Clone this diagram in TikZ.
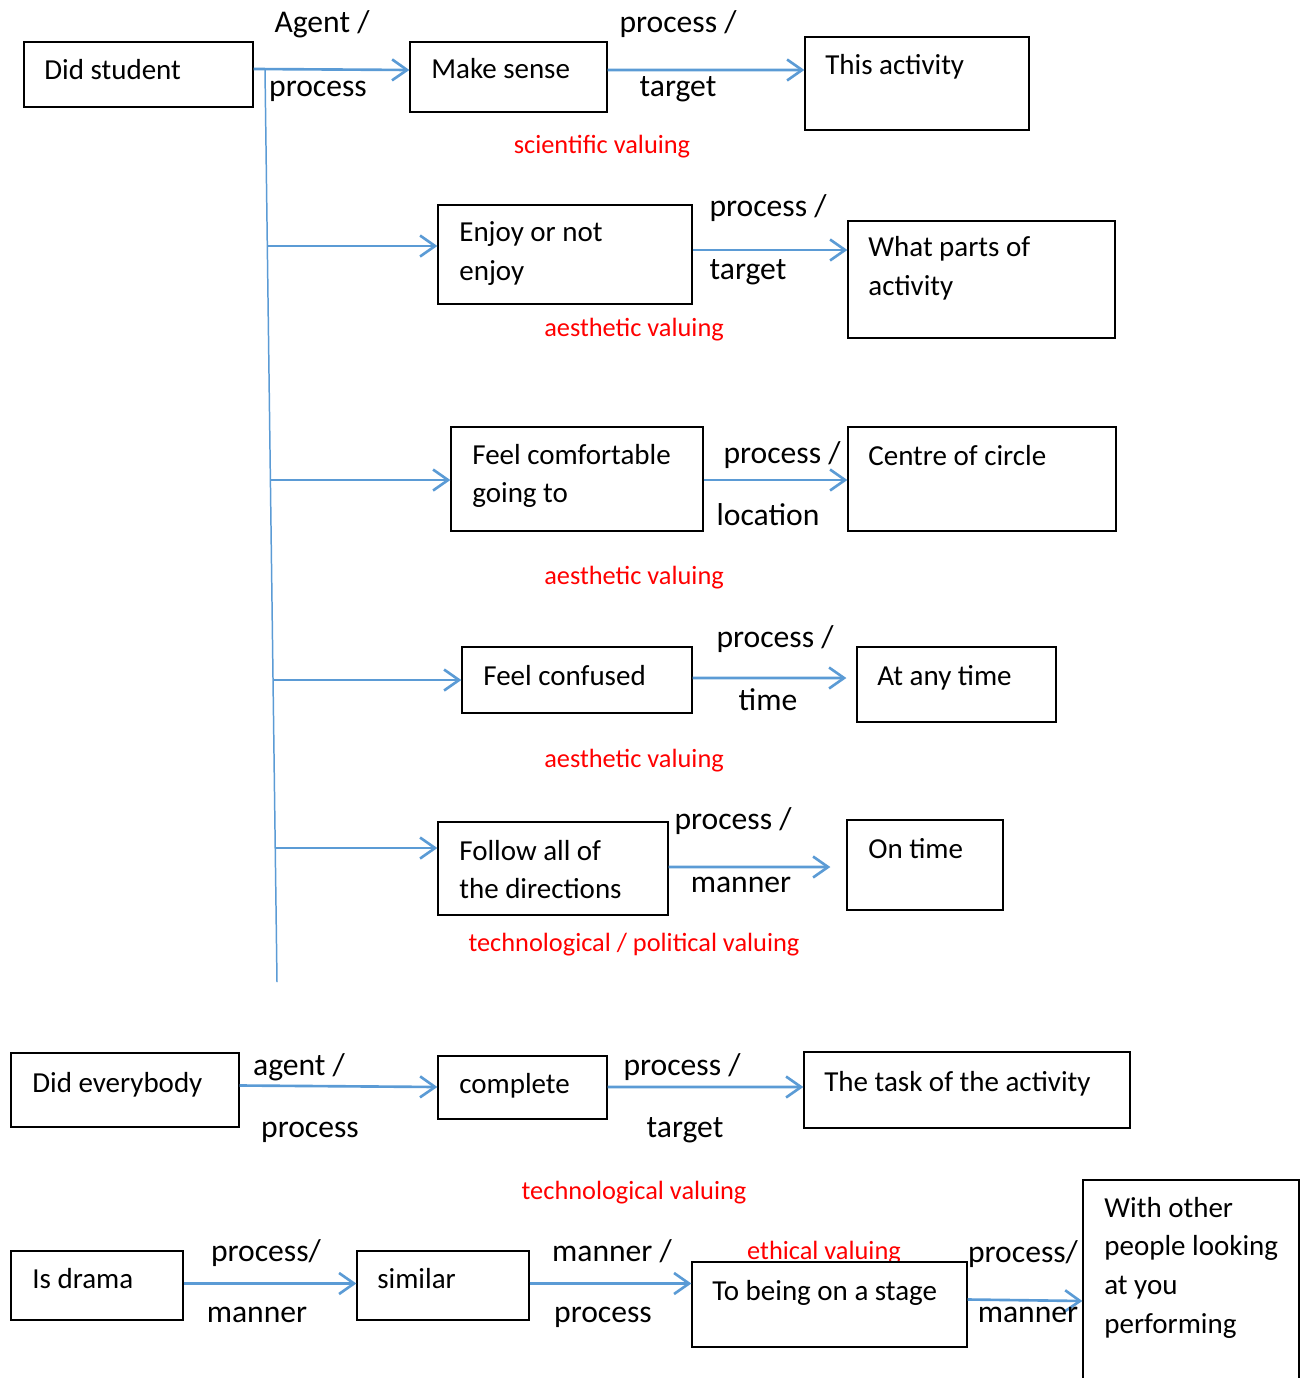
\documentclass[tikz,border=0pt]{standalone}
\usepackage{fontspec}
\setmainfont{Carlito}
\definecolor{linkblue}{RGB}{91,155,213}
\definecolor{valred}{RGB}{255,0,0}
\usetikzlibrary{arrows.meta,positioning,calc,fit}
\newlength\pxu
\setlength\pxu{0.02cm}

\begin{document}
\begin{tikzpicture}[x=0.02cm,y=-0.02cm,
  box/.style={draw=black,line width=0.75pt,fill=white,inner sep=0pt},
  boxtext/.style={font=\fontsize{16.5}{22.1}\selectfont,inner sep=0pt,anchor=base west},
  multi/.style={boxtext,text width=#1,align=flush left},
  rel/.style={font=\fontsize{18}{22}\selectfont,inner sep=0pt,anchor=base},
  valuing/.style={font=\fontsize{15}{18}\selectfont,text=valred,inner sep=0pt,anchor=base},
  link/.style={draw=linkblue,line width=1.5pt,-{Straight Barb[length=0.3cm,width=0.42cm]}},
  stem/.style={draw=linkblue,line width=0.85pt}]
  \useasboundingbox (0,0) rectangle (1301,1378);

  %% Did student -> Make sense -> This activity
  \node[box,fit={(24,42) (253,107)}] (did) {};
  \node[boxtext] (did-t) at (44,80) {Did student};
  \node[box,fit={(410,42) (607,112)}] (sense) {};
  \node[boxtext] (sense-t) at (431,79) {Make sense};
  \node[box,fit={(805,37) (1029,130)}] (act) {};
  \node[boxtext] (act-t) at (825,75) {This activity};
  \draw[link] ([yshift=5.5\pxu]did.east) -- ([yshift=7\pxu]sense.west);
  \draw[link] ([yshift=7\pxu]sense.east) -- ([yshift=13.5\pxu]act.west);
  \node[rel] (r1a) at (322,33) {Agent /};
  \node[rel] (r1b) at (318,97) {process};
  \node[rel] (r1c) at (678,33) {process /};
  \node[rel] (r1d) at (678,97) {target};
  \node[valuing] (v1) at (602,154) {scientific valuing};

  %% stem and branches
  \coordinate (stemtop) at (265,70);
  \coordinate (stembot) at (277,982);
  \draw[stem] (stemtop) -- (stembot);
  \coordinate (b1) at ($(stemtop)!0.193!(stembot)$);
  \coordinate (b2) at ($(stemtop)!0.4496!(stembot)$);
  \coordinate (b3) at ($(stemtop)!0.6689!(stembot)$);
  \coordinate (b4) at ($(stemtop)!0.8531!(stembot)$);

  %% Enjoy or not enjoy -> What parts of activity
  \node[box,fit={(438,205) (692,304)}] (enjoy) {};
  \node[multi=230\pxu] (enjoy-t) at (459,242) {Enjoy or not\\enjoy};
  \node[box,fit={(848,221) (1115,338)}] (parts) {};
  \node[multi=230\pxu] (parts-t) at (868,257) {What parts of\\activity};
  \draw[link] (b1) -- (enjoy.west |- b1);
  \draw[link] ([yshift=4.5\pxu]enjoy.east) -- ([yshift=29.5\pxu]parts.west);
  \node[rel] (r2a) at (768,217) {process /};
  \node[rel] (r2b) at (748,279) {target};
  \node[valuing] (v2) at (634,337) {aesthetic valuing};

  %% Feel comfortable going to -> Centre of circle
  \node[box,fit={(451,427) (703,531)}] (comfy) {};
  \node[multi=230\pxu] (comfy-t) at (472,464) {Feel comfortable\\going to};
  \node[box,fit={(848,427) (1116,531)}] (centre) {};
  \node[boxtext] (centre-t) at (868,465) {Centre of circle};
  \draw[link] (b2) -- (comfy.west |- b2);
  \draw[link] ([yshift=-1\pxu]comfy.east) -- ([yshift=-1\pxu]centre.west);
  \node[rel] (r3a) at (782,463) {process /};
  \node[rel] (r3b) at (768,525) {location};
  \node[valuing] (v3) at (634,584) {aesthetic valuing};

  %% Feel confused -> At any time
  \node[box,fit={(462,647) (692,713)}] (confused) {};
  \node[boxtext] (confused-t) at (483,685) {Feel confused};
  \node[box,fit={(857,647) (1056,722)}] (anytime) {};
  \node[boxtext] (anytime-t) at (877,685) {At any time};
  \draw[link] (b3) -- (confused.west |- b3);
  \draw[link,shorten >=10\pxu] ([yshift=2\pxu]confused.east) -- ([yshift=6.5\pxu]anytime.west);
  \node[rel] (r4a) at (775,647) {process /};
  \node[rel] (r4b) at (768,710) {time};
  \node[valuing] (v4) at (634,767) {aesthetic valuing};

  %% Follow all of the directions -> On time
  \node[box,fit={(438,822) (668,915)}] (follow) {};
  \node[multi=220\pxu] (follow-t) at (459,860) {Follow all of\\the directions};
  \node[box,fit={(847,820) (1003,910)}] (ontime) {};
  \node[boxtext] (ontime-t) at (868,858) {On time};
  \draw[link] (b4) -- (follow.west |- b4);
  \draw[link,shorten >=16\pxu] ([yshift=1.5\pxu]follow.east) -- ([yshift=-2\pxu]ontime.west);
  \node[rel] (r5a) at (733,829) {process /};
  \node[rel] (r5b) at (741,892) {manner};
  \node[valuing] (v5) at (634,951) {technological / political valuing};

  %% Did everybody -> complete -> The task of the activity
  \node[box,fit={(11,1053) (239,1127)}] (every) {};
  \node[boxtext] (every-t) at (32,1092) {Did everybody};
  \node[box,fit={(438,1056) (607,1119)}] (complete) {};
  \node[boxtext] (complete-t) at (459,1093) {complete};
  \node[box,fit={(804,1052) (1130,1128)}] (task) {};
  \node[boxtext] (task-t) at (824,1091) {The task of the activity};
  \draw[link] ([yshift=4.5\pxu]every.east) -- ([yshift=0.5\pxu]complete.west);
  \draw[link] ([yshift=0.5\pxu]complete.east) -- ([yshift=3\pxu]task.west);
  \node[rel] (r6a) at (299,1075) {agent /};
  \node[rel] (r6b) at (310,1137) {process};
  \node[rel] (r6c) at (682,1075) {process /};
  \node[rel] (r6d) at (685,1137) {target};
  \node[valuing] (v6) at (634,1199) {technological valuing};

  %% Is drama -> similar -> To being on a stage -> With other people...
  \node[valuing] (v7) at (824,1259) {ethical valuing};
  \node[box,fit={(11,1251) (183,1320)}] (drama) {};
  \node[boxtext] (drama-t) at (32,1288) {Is drama};
  \node[box,fit={(357,1251) (529,1320)}] (similar) {};
  \node[boxtext] (similar-t) at (377,1288) {similar};
  \node[box,fit={(692,1262) (967,1347)}] (stage) {};
  \node[boxtext] (stage-t) at (712,1300) {To being on a stage};
  \node[box,fit={(1083,1180) (1299,1392)}] (others) {};
  \node[multi=200\pxu] (others-t) at (1104,1217) {With other\\people looking\\at you\\performing};
  \draw[link] ([yshift=2\pxu]drama.east) -- ([yshift=2\pxu]similar.west);
  \draw[link] ([yshift=2\pxu]similar.east) -- ([yshift=21\pxu]stage.west);
  \draw[link] ([yshift=5\pxu]stage.east) -- ([yshift=-15\pxu]others.west);
  \node[rel] (r7a) at (266,1261) {process/};
  \node[rel] (r7b) at (257,1322) {manner};
  \node[rel] (r7c) at (612,1261) {manner /};
  \node[rel] (r7d) at (603,1322) {process};
  \node[rel] (r7e) at (1023,1262) {process/};
  \node[rel] (r7f) at (1028,1322) {manner};
\end{tikzpicture}
\end{document}
